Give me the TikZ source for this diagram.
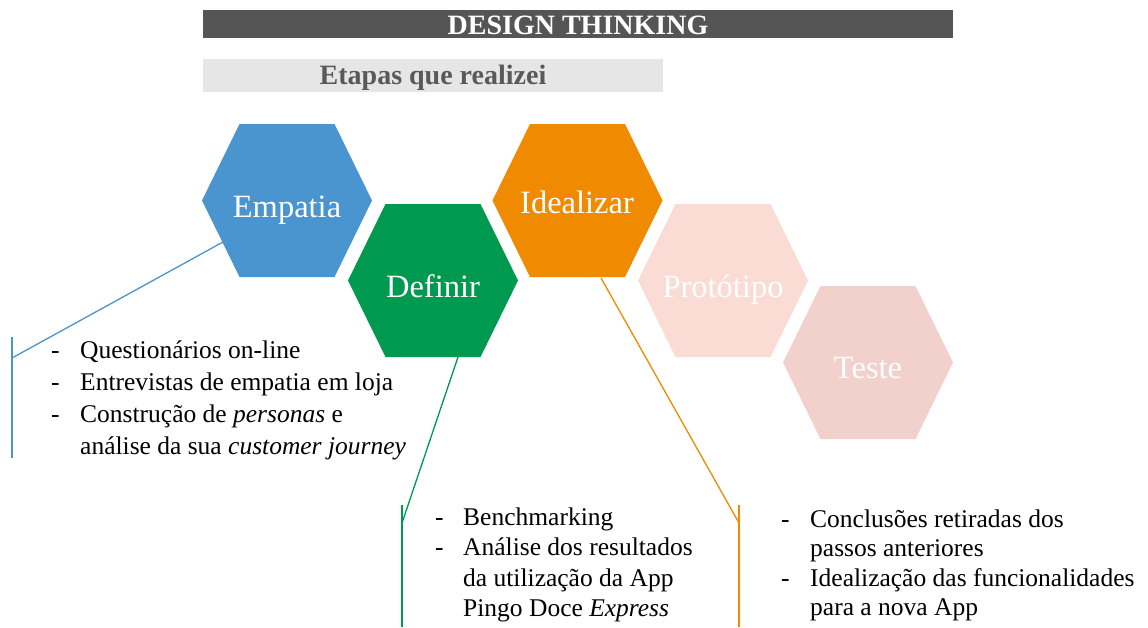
\documentclass[tikz,border=0pt]{standalone}
\usepackage{fontspec}
\setmainfont{Liberation Serif}
\definecolor{titlegray}{RGB}{85,85,85}
\definecolor{subgray}{RGB}{230,230,230}
\definecolor{subtext}{RGB}{89,89,89}
\definecolor{empblue}{RGB}{74,148,208}
\definecolor{defgreen}{RGB}{0,153,80}
\definecolor{ideorange}{RGB}{240,138,0}
\definecolor{protpink}{RGB}{250,220,213}
\definecolor{testpink}{RGB}{242,208,204}
\begin{document}
\begin{tikzpicture}[x=1pt,y=-1pt,
  hexa/.pic={\path[pic actions] (-85,0) -- (-47.5,-76.5) -- (47.5,-76.5) -- (85,0) -- (47.5,76.5) -- (-47.5,76.5) -- cycle;},
  hexlabel/.style={text=white, font=\fontsize{32.5}{33}\selectfont, anchor=base, inner sep=0pt},
  itemblock/.style={anchor=base west, inner sep=0pt},
  conn/.style={line width=1.3pt},
]
\useasboundingbox (0,0) rectangle (1148,627);

% title bars
\fill[titlegray] (203,10) rectangle (953,38);
\node[anchor=base, inner sep=0pt, text=white, font=\bfseries\fontsize{28}{28}\selectfont] (title) at (578,34) {DESIGN THINKING};
\fill[subgray] (203,59) rectangle (663,92);
\node[anchor=base, inner sep=0pt, text=subtext, font=\bfseries\fontsize{28}{28}\selectfont] (subtitle) at (433,84.5) {Etapas que realizei};

% hexagons
\pic[fill=empblue] at (287,200.5) {hexa};
\pic[fill=defgreen] at (433,280.5) {hexa};
\pic[fill=ideorange] at (577.5,200.5) {hexa};
\pic[fill=protpink] at (723,280.5) {hexa};
\pic[fill=testpink] at (868,362.5) {hexa};

\node[hexlabel] (empatia) at (287,217) {Empatia};
\node[hexlabel] (definir) at (433,297) {Definir};
\node[hexlabel] (idealizar) at (577,213) {Idealizar};
\node[hexlabel] (prototipo) at (723,297) {Protótipo};
\node[hexlabel] (teste) at (868,378) {Teste};

% connector points
\coordinate (empedge) at (223,242);
\coordinate (empknee) at (12,358);
\coordinate (emptop) at (12,337);
\coordinate (empbot) at (12,458);
\coordinate (defedge) at (458,357);
\coordinate (defknee) at (402,523);
\coordinate (deftop) at (402,505);
\coordinate (defbot) at (402,627);
\coordinate (ideedge) at (601,278);
\coordinate (ideknee) at (739,523);
\coordinate (idetop) at (739,505);
\coordinate (idebot) at (739,627);

\draw[conn, empblue] (empedge) -- (empknee);
\draw[conn, empblue] (emptop) -- (empbot);
\draw[conn, defgreen] (defedge) -- (defknee);
\draw[conn, defgreen] (deftop) -- (defbot);
\draw[conn, ideorange] (ideedge) -- (ideknee);
\draw[conn, ideorange] (idetop) -- (idebot);

% text blocks
\node[itemblock] (emptext) at (51,358) {\fontsize{25.5}{32}\selectfont
\begin{tabular}[t]{@{}p{29pt}@{}l@{}}
-&Questionários on-line\\
-&Entrevistas de empatia em loja\\
-&Construção de \textit{personas} e\\
&análise da sua \textit{customer journey}
\end{tabular}};

\node[itemblock] (deftext) at (435,525) {\fontsize{25.5}{30.5}\selectfont
\begin{tabular}[t]{@{}p{28pt}@{}l@{}}
-&Benchmarking\\
-&Análise dos resultados\\
&da utilização da App\\
&Pingo Doce \textit{Express}
\end{tabular}};

\node[itemblock] (idetext) at (781,527) {\fontsize{25.5}{29.5}\selectfont
\begin{tabular}[t]{@{}p{29pt}@{}l@{}}
-&Conclusões retiradas dos\\
&passos anteriores\\
-&Idealização das funcionalidades\\
&para a nova App
\end{tabular}};
\end{tikzpicture}
\end{document}
